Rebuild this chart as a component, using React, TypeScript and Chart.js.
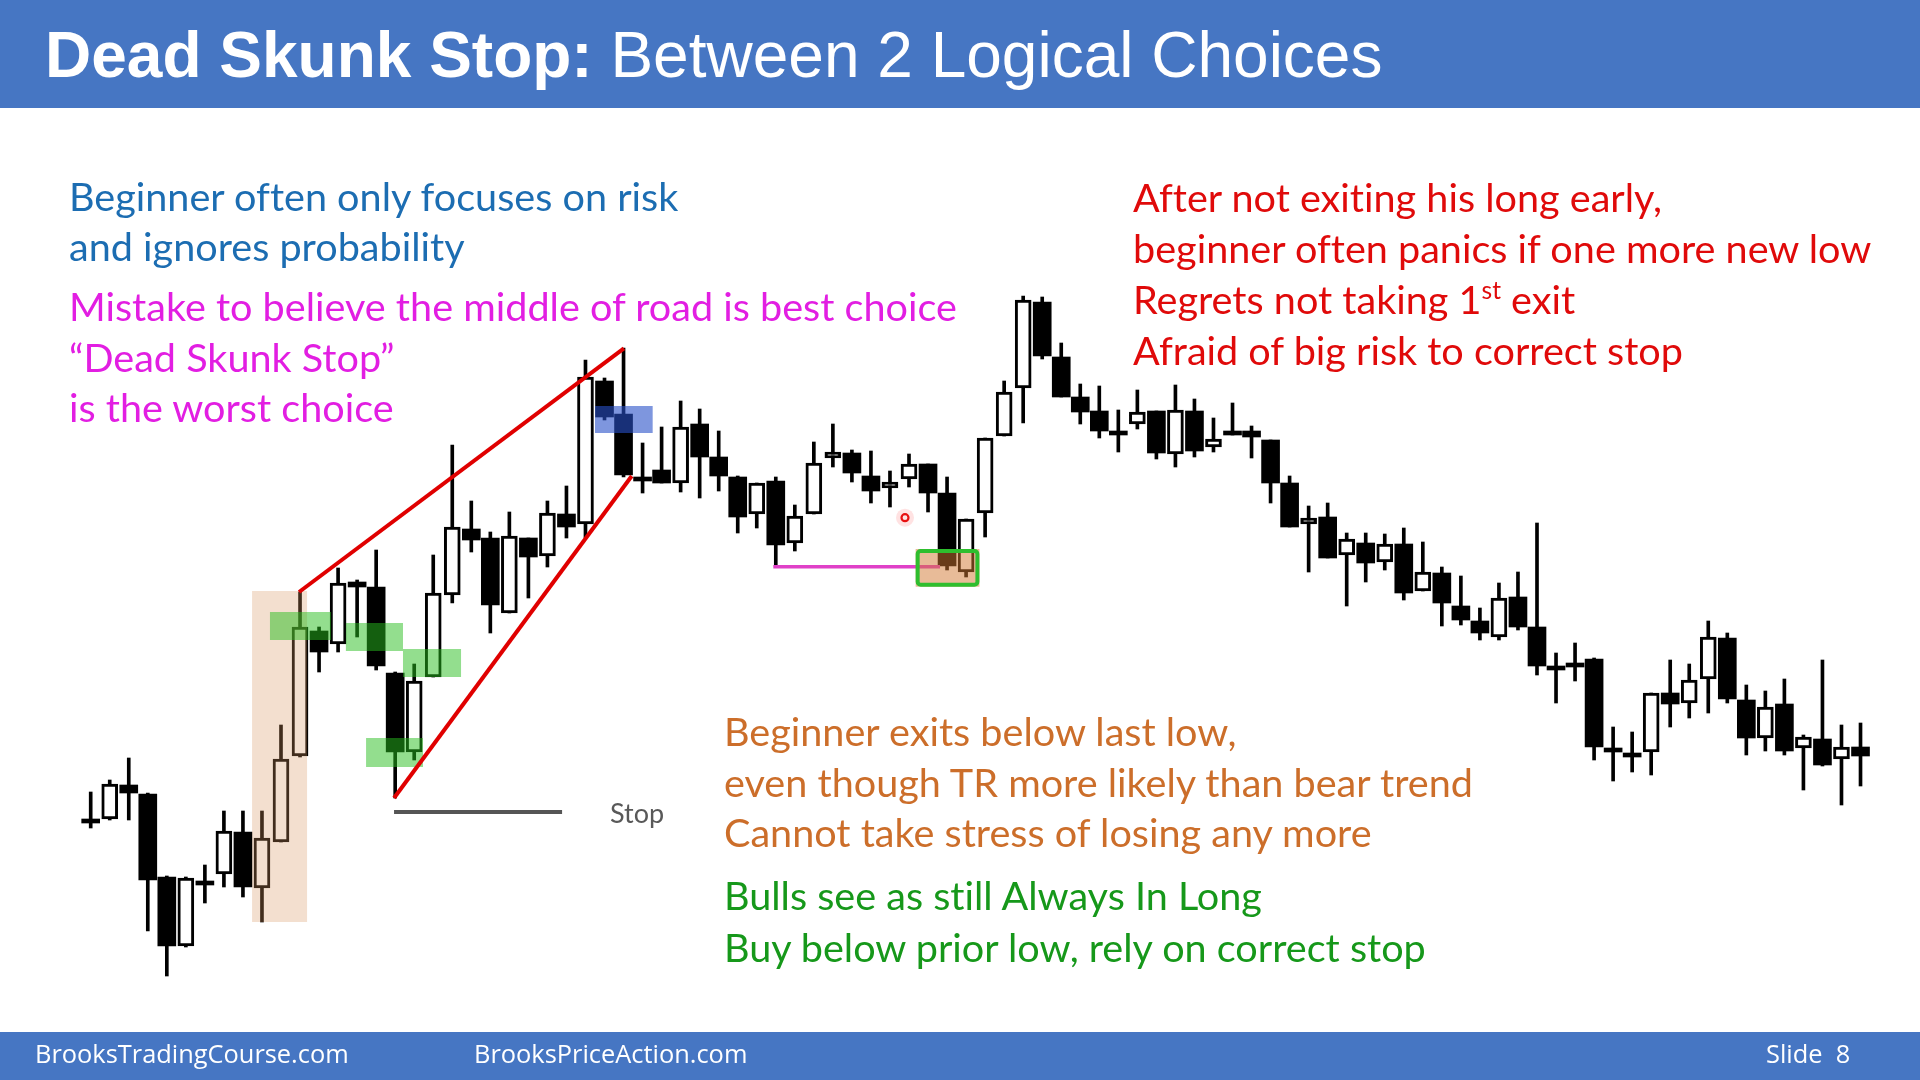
import React, { useEffect, useRef } from "react";
import { Chart, registerables } from "chart.js";

Chart.register(...registerables);

// ---------------- Data (price units) ----------------
const opens = [181,181,215,206,123,54,119,126,168,112,158,244,369,356,418,413,327,248,323,405,471,462,387,462,444,486,476,619,586,523,530,517,576,543,523,486,519,457,486,542,547,524,512,521,536,507,428,487,564,612,698,643,603,589,569,576,589,546,589,553,568,569,560,517,476,483,445,457,438,456,409,427,394,379,363,403,373,334,337,341,252,247,248,307,297,321,362,300,262,296,252,261,241,253];
const highs = [208,220,242,207,124,123,135,189,189,189,275,408,373,432,420,450,328,336,445,555,499,468,488,462,499,514,640,622,652,557,573,599,591,569,524,517,523,495,558,576,550,549,529,546,536,523,481,562,619,704,703,657,616,614,590,610,589,615,601,582,597,574,560,524,494,497,467,467,466,472,458,433,424,392,417,428,477,347,357,342,273,268,307,340,336,379,367,315,309,321,265,340,275,277];
const lows = [172,180,180,69,24,53,97,113,103,78,158,243,328,348,363,330,202,240,323,397,448,367,387,402,433,462,462,580,523,507,517,508,502,509,467,472,433,449,486,533,518,497,493,513,488,430,423,463,564,577,641,603,576,562,548,571,541,533,543,548,565,542,497,473,428,442,394,418,430,400,409,374,375,360,360,370,325,297,319,240,219,228,225,273,282,287,297,245,249,245,210,234,195,214];
const closes = [181,216,207,120,54,122,119,169,113,162,241,373,348,417,413,334,248,319,407,473,460,395,464,443,487,473,623,583,525,523,517,573,543,524,483,517,455,484,537,548,527,509,518,536,507,434,481,562,608,700,644,603,588,569,569,588,547,590,549,561,565,563,517,473,482,442,461,437,456,407,428,397,380,367,402,373,334,334,337,253,252,247,307,296,320,363,301,262,293,249,263,235,253,244];

// Annotation anchors in data units (x = bar index, y = price)
const SIGNAL_ZONE = { x0: 8.48, x1: 11.37, y0: 78, y1: 409 };
const PULLBACK_ZONES = [
  { x0: 9.42, x1: 12.63, y0: 360, y1: 388 },
  { x0: 13.41, x1: 16.41, y0: 349, y1: 377 },
  { x0: 16.41, x1: 19.46, y0: 323, y1: 351 },
  { x0: 14.47, x1: 17.46, y0: 233, y1: 262 },
];
const TOP_ZONE = { x0: 26.5, x1: 29.53, y0: 567, y1: 594 };
const ENTRY_ZONE = { x0: 43.35, x1: 46.7, y0: 413.3, y1: 451 };
const WEDGE_UPPER = { x0: 10.95, y0: 408, x1: 28.02, y1: 651.7 };
const WEDGE_LOWER = { x0: 15.94, y0: 202, x1: 28.43, y1: 524 };
const STOP_LINE = { x0: 15.94, x1: 24.77, y: 188 };
const PRIOR_LOW_LINE = { x0: 35.87, x1: 44.63, y: 433.3 };
const CURSOR_DOT = { x: 42.79, y: 482.3 };

const X_MIN = -4.766;
const X_MAX = 96.126;
const Y_MIN = -80;
const Y_MAX = 1000;

const annotationPlugin = {
  id: "slideAnnotations",
  afterDatasetsDraw(chart: any) {
    const ctx: CanvasRenderingContext2D = chart.ctx;
    const xs = chart.scales.x;
    const ys = chart.scales.y;
    const px = (v: number) => xs.getPixelForValue(v);
    const py = (v: number) => ys.getPixelForValue(v);
    const rect = (z: any, fill: string) => {
      const x0 = px(z.x0), x1 = px(z.x1), y0 = py(z.y1), y1 = py(z.y0);
      ctx.fillStyle = fill;
      ctx.fillRect(x0, y0, x1 - x0, y1 - y0);
    };
    const line = (x0: number, y0: number, x1: number, y1: number, color: string, w: number) => {
      ctx.beginPath();
      ctx.moveTo(px(x0), py(y0));
      ctx.lineTo(px(x1), py(y1));
      ctx.strokeStyle = color;
      ctx.lineWidth = w;
      ctx.lineCap = "butt";
      ctx.stroke();
    };
    ctx.save();
    rect(SIGNAL_ZONE, "rgba(215,150,95,0.30)");
    PULLBACK_ZONES.forEach((z) => rect(z, "rgba(40,190,30,0.5)"));
    rect(TOP_ZONE, "rgba(40,80,200,0.6)");
    line(PRIOR_LOW_LINE.x0, PRIOR_LOW_LINE.y, PRIOR_LOW_LINE.x1, PRIOR_LOW_LINE.y, "#E040C8", 3.5);
    rect(ENTRY_ZONE, "rgba(210,120,50,0.5)");
    {
      const x0 = px(ENTRY_ZONE.x0), x1 = px(ENTRY_ZONE.x1), y0 = py(ENTRY_ZONE.y1), y1 = py(ENTRY_ZONE.y0);
      ctx.strokeStyle = "#2EBE2E";
      ctx.lineWidth = 4;
      ctx.beginPath();
      (ctx as any).roundRect
        ? (ctx as any).roundRect(x0 + 2, y0 + 2, x1 - x0 - 4, y1 - y0 - 4, 3)
        : ctx.rect(x0 + 2, y0 + 2, x1 - x0 - 4, y1 - y0 - 4);
      ctx.stroke();
    }
    line(WEDGE_UPPER.x0, WEDGE_UPPER.y0, WEDGE_UPPER.x1, WEDGE_UPPER.y1, "#E00000", 4);
    line(WEDGE_LOWER.x0, WEDGE_LOWER.y0, WEDGE_LOWER.x1, WEDGE_LOWER.y1, "#E00000", 4);
    line(STOP_LINE.x0, STOP_LINE.y, STOP_LINE.x1, STOP_LINE.y, "#555555", 4);
    // cursor dot
    const cx = px(CURSOR_DOT.x), cy = py(CURSOR_DOT.y);
    ctx.beginPath();
    ctx.arc(cx, cy, 9, 0, Math.PI * 2);
    ctx.fillStyle = "rgba(255,60,60,0.15)";
    ctx.fill();
    ctx.beginPath();
    ctx.arc(cx, cy, 3.5, 0, Math.PI * 2);
    ctx.strokeStyle = "#E81010";
    ctx.lineWidth = 2.2;
    ctx.stroke();
    ctx.restore();
  },
};

function CandleChart() {
  const ref = useRef<HTMLCanvasElement | null>(null);
  useEffect(() => {
    if (!ref.current) return;
    const idx = opens.map((_, i) => i);
    const wicks = idx.map((i) => ({ x: i, y: [lows[i], highs[i]] }));
    const bull = idx.filter((i) => closes[i] > opens[i]).map((i) => ({ x: i, y: [opens[i], closes[i]] }));
    const bear = idx.filter((i) => closes[i] <= opens[i]).map((i) => ({ x: i, y: [closes[i], opens[i]] }));
    const chart = new Chart(ref.current, {
      type: "bar",
      data: {
        datasets: [
          { label: "bear", data: bear as any, backgroundColor: "#000", barThickness: 18, minBarLength: 4, grouped: false, order: 0, borderSkipped: false, borderWidth: 0 } as any,
          { label: "bull", data: bull as any, backgroundColor: "#fff", borderColor: "#000", borderWidth: 3, barThickness: 16, grouped: false, order: 1, borderSkipped: false } as any,
          { label: "wick", data: wicks as any, backgroundColor: "#000", barThickness: 3, grouped: false, order: 2, borderWidth: 0 } as any,
        ],
      },
      options: {
        animation: false,
        responsive: false,
        devicePixelRatio: 1,
        layout: { padding: 0 },
        plugins: { legend: { display: false }, tooltip: { enabled: false }, title: { display: false } },
        scales: {
          x: { type: "linear", min: X_MIN, max: X_MAX, display: false, offset: false },
          y: { type: "linear", min: Y_MIN, max: Y_MAX, display: false },
        },
      },
      plugins: [annotationPlugin],
    } as any);
    return () => chart.destroy();
  }, []);
  return <canvas ref={ref} width={1920} height={1080} style={{ position: "absolute", left: 0, top: 0, width: 1920, height: 1080 }} />;
}

type Font = { family: string; ascent: number; descent: number };
const LATO: Font = { family: "Lato, sans-serif", ascent: 0.987, descent: 0.213 };
const ARIAL: Font = { family: '"Liberation Sans", Arial, sans-serif', ascent: 0.905, descent: 0.212 };
const OPEN: Font = { family: '"Open Sans", sans-serif', ascent: 1.069, descent: 0.293 };

function TextLines(props: { x: number; baseline: number; size: number; gap: number; color: string; font: Font; lines: React.ReactNode[]; weight?: number }) {
  const { x, baseline, size, gap, color, font, lines } = props;
  const top = baseline - ((gap - (font.ascent + font.descent) * size) / 2 + font.ascent * size);
  return (
    <div style={{ position: "absolute", left: x, top, color, fontFamily: font.family, fontSize: size, lineHeight: `${gap}px`, whiteSpace: "pre", fontWeight: props.weight ?? 400, fontVariantLigatures: "none" }}>
      {lines.map((l, i) => (
        <div key={i} style={{ height: gap }}>{l}</div>
      ))}
    </div>
  );
}

export default function App() {
  const blue = "#4676C3";
  const body = 39.6;
  return (
    <div style={{ position: "fixed", left: 0, top: 0, width: 1920, height: 1080, background: "#fff", overflow: "hidden" }}>
      <div style={{ position: "absolute", left: 0, top: 0, width: 1920, height: 108, background: blue }} />
      <div style={{ position: "absolute", left: 0, top: 1032, width: 1920, height: 48, background: blue }} />
      <CandleChart />
      <TextLines x={45} baseline={77} size={64} gap={72} color="#fff" font={ARIAL}
        lines={[<span><b>Dead Skunk Stop:</b> Between 2 Logical Choices</span>]} />
      <TextLines x={69} baseline={211.5} size={body} gap={50.5} color="#1C6DB2" font={LATO}
        lines={["Beginner often only focuses on risk", "and ignores probability"]} />
      <TextLines x={69} baseline={322} size={body} gap={50.5} color="#E21EE2" font={LATO}
        lines={["Mistake to believe the middle of road is best choice", "\u201CDead Skunk Stop\u201D", "is the worst choice"]} />
      <TextLines x={1133} baseline={211.5} size={body} gap={51.3} color="#E00A0A" font={LATO}
        lines={[
          "After not exiting his long early,",
          "beginner often panics if one more new low",
          <span>Regrets not taking 1<span style={{ fontSize: "0.62em", position: "relative", top: "-0.62em" }}>st</span> exit</span>,
          "Afraid of big risk to correct stop",
        ]} />
      <TextLines x={724} baseline={746.5} size={body} gap={50.8} color="#CC6E2A" font={LATO}
        lines={["Beginner exits below last low,", "even though TR more likely than bear trend", "Cannot take stress of losing any more"]} />
      <TextLines x={724} baseline={910.5} size={body} gap={51.4} color="#16981A" font={LATO}
        lines={["Bulls see as still Always In Long", "Buy below prior low, rely on correct stop"]} />
      <TextLines x={610} baseline={823} size={27} gap={34} color="#595959" font={LATO} lines={["Stop"]} />
      <TextLines x={35} baseline={1063} size={25.4} gap={34} color="#fff" font={OPEN} lines={["BrooksTradingCourse.com"]} />
      <TextLines x={474} baseline={1063} size={25.4} gap={34} color="#fff" font={OPEN} lines={["BrooksPriceAction.com"]} />
      <TextLines x={1766} baseline={1063} size={25.4} gap={34} color="#fff" font={OPEN} lines={["Slide  8"]} />
    </div>
  );
}
